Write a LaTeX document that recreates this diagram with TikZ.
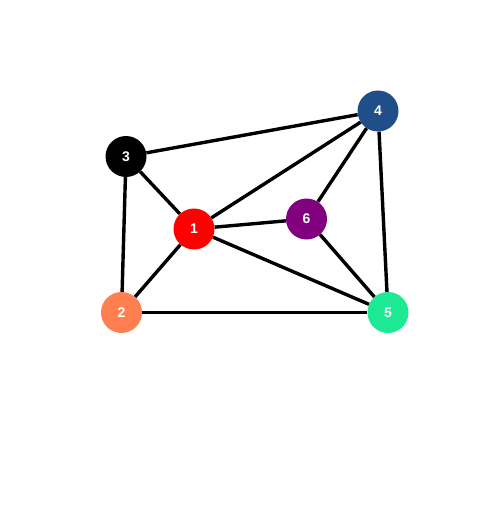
\documentclass[tikz,border=0pt]{standalone}
\usepackage{fontspec}
\setmainfont{Liberation Sans}
\usepackage{tikz}
\definecolor{coral}{HTML}{FF7F50}
\definecolor{navy}{HTML}{1F4E89}
\definecolor{mint}{HTML}{1DE994}
\definecolor{plum}{HTML}{800080}
\tikzstyle{vertex} = [circle, minimum size=41pt, inner sep=0pt, text=white, font=\fontsize{14}{14}\selectfont\bfseries]
\tikzstyle{link} = [line width=3.4pt, black]

\begin{document}
\begin{tikzpicture}[x=1pt, y=-1pt]

            \useasboundingbox (0,0) rectangle (494,505);

            \node (v1) [vertex, fill=red] at (194,229) {1};
            \node (v2) [vertex, fill=coral] at (121.5,312.5) {2};
            \node (v3) [vertex, fill=black] at (126,156.5) {3};
            \node (v4) [vertex, fill=navy] at (378,111) {4};
            \node (v5) [vertex, fill=mint] at (388,312.5) {5};
            \node (v6) [vertex, fill=plum] at (306.5,219) {6};

            %% edges

            \draw [link] (v3) -- (v4);
            \draw [link] (v3) -- (v1);
            \draw [link] (v3) -- (v2);
            \draw [link] (v1) -- (v2);
            \draw [link] (v1) -- (v4);
            \draw [link] (v1) -- (v6);
            \draw [link] (v1) -- (v5);
            \draw [link] (v4) -- (v6);
            \draw [link] (v4) -- (v5);
            \draw [link] (v6) -- (v5);
            \draw [link] (v2) -- (v5);

        \end{tikzpicture}
\end{document}
